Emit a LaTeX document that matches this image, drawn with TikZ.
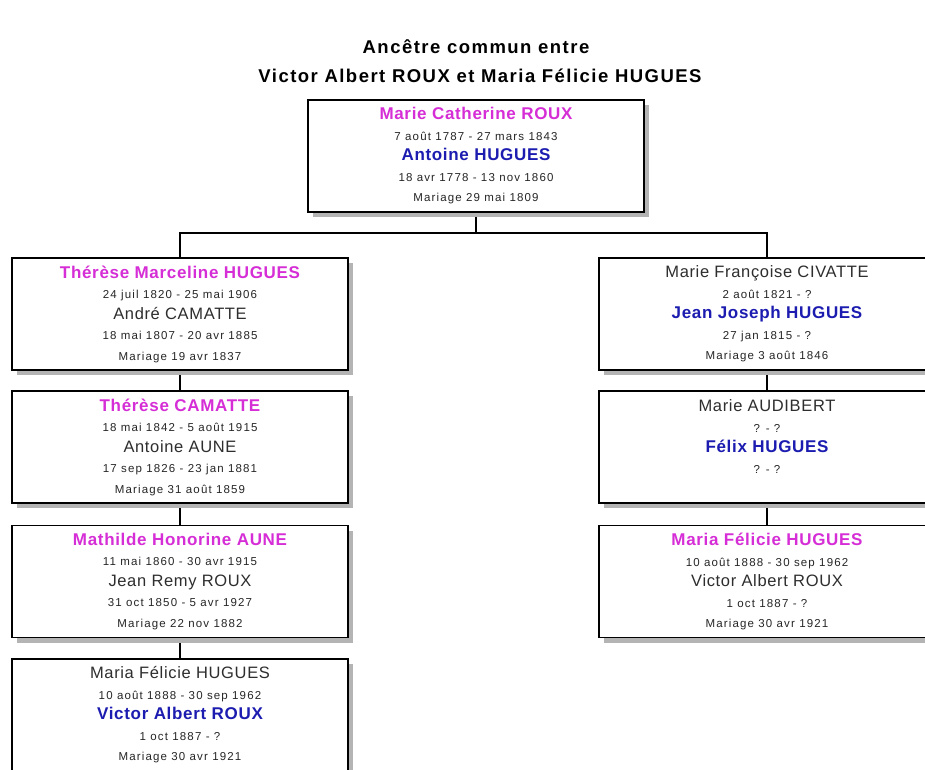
\documentclass[tikz,border=0pt]{standalone}
\usepackage{fontspec}
\setmainfont{Liberation Sans}
\newfontfamily\datefont[LetterSpace=10]{Liberation Sans}
\newfontfamily\namefont[LetterSpace=4]{Liberation Sans}
\newfontfamily\titlefont[LetterSpace=8]{Liberation Sans}
\usepackage{xcolor}
\usepackage{tikz}
\usetikzlibrary{shadows,backgrounds}
\definecolor{cwife}{HTML}{D62ED6}
\definecolor{chusb}{HTML}{1C1CB0}
\definecolor{cplain}{HTML}{2E2E2E}
\definecolor{cshade}{HTML}{B4B4B4}
\newcommand{\wife}[1]{{\namefont\fontsize{17}{20.5}\selectfont\bfseries\color{cwife}#1}}
\newcommand{\husb}[1]{{\namefont\fontsize{17}{20.5}\selectfont\bfseries\color{chusb}#1}}
\newcommand{\plain}[1]{{\namefont\fontsize{16.5}{20.5}\selectfont\color{cplain}#1}}
\tikzset{
  couple/.style={draw, line width=1.8pt, fill=white, rectangle, minimum width=336pt, minimum height=112pt,
    align=center, inner sep=0pt, text=black!85, font=\datefont\fontsize{11.5}{20.5}\selectfont,
    drop shadow={shadow xshift=5pt, shadow yshift=-5pt, fill=cshade, opacity=1}},
  link/.style={line width=1.8pt, draw=black},
  heading/.style={font=\titlefont\fontsize{18.5}{20}\selectfont\bfseries, inner sep=0pt},
}
\begin{document}
\begin{tikzpicture}[x=1pt,y=-1pt]
\useasboundingbox (0,0) rectangle (925,769);
\clip (0,0) rectangle (925,769);
% titre
\node[heading] (t1) at (476,47) {Ancêtre commun entre};
\node[heading] (t2) at (480,76) {Victor Albert ROUX et Maria Félicie HUGUES};
% ancetres communs
\node[couple] (anc) at (476,156) {\wife{Marie Catherine ROUX}\\ 7 août 1787 - 27 mars 1843\\ \husb{Antoine HUGUES}\\ 18 avr 1778 - 13 nov 1860\\ Mariage 29 mai 1809};
% branche gauche
\node[couple] (l1) at (180,314) {\wife{Thérèse Marceline HUGUES}\\ 24 juil 1820 - 25 mai 1906\\ \plain{André CAMATTE}\\ 18 mai 1807 - 20 avr 1885\\ Mariage 19 avr 1837};
\node[couple] (l2) at (180,447) {\wife{Thérèse CAMATTE}\\ 18 mai 1842 - 5 août 1915\\ \plain{Antoine AUNE}\\ 17 sep 1826 - 23 jan 1881\\ Mariage 31 août 1859};
\node[couple] (l3) at (180,581.5) {\wife{Mathilde Honorine AUNE}\\ 11 mai 1860 - 30 avr 1915\\ \plain{Jean Remy ROUX}\\ 31 oct 1850 - 5 avr 1927\\ Mariage 22 nov 1882};
\node[couple] (l4) at (180,715) {\plain{Maria Félicie HUGUES}\\ 10 août 1888 - 30 sep 1962\\ \husb{Victor Albert ROUX}\\ 1 oct 1887 - ?\\ Mariage 30 avr 1921};
% branche droite
\node[couple] (r1) at (767,314) {\plain{Marie Françoise CIVATTE}\\ 2 août 1821 - ?\\ \husb{Jean Joseph HUGUES}\\ 27 jan 1815 - ?\\ Mariage 3 août 1846};
\node[couple] (r2) at (767,447) {\plain{Marie AUDIBERT}\\ ? - ?\\ \husb{Félix HUGUES}\\ ? - ?\\ ~};
\node[couple] (r3) at (767,581.5) {\wife{Maria Félicie HUGUES}\\ 10 août 1888 - 30 sep 1962\\ \plain{Victor Albert ROUX}\\ 1 oct 1887 - ?\\ Mariage 30 avr 1921};
% liens
\coordinate (fork) at (476,233);
\begin{scope}[on background layer]
\draw[link] (anc) -- (fork) -| (l1.north);
\draw[link] (fork) -| (r1.north);
\draw[link] (l1) -- (l2); \draw[link] (l2) -- (l3); \draw[link] (l3) -- (l4);
\draw[link] (r1) -- (r2); \draw[link] (r2) -- (r3);
\end{scope}
\end{tikzpicture}
\end{document}
